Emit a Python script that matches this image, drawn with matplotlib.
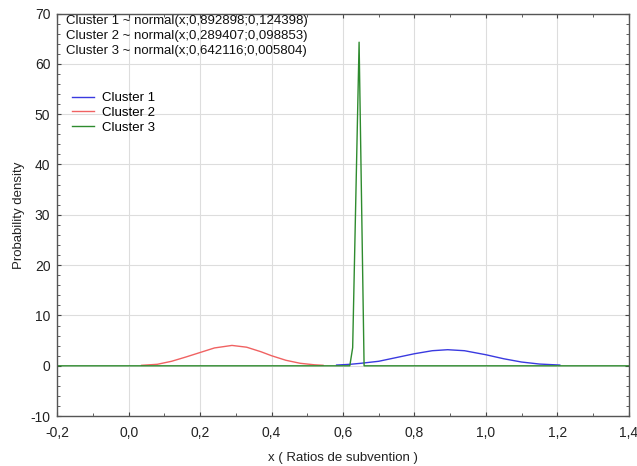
"""Normal densities fitted to the three clusters of subsidy ratios."""

import matplotlib.pyplot as plt
from matplotlib.ticker import MultipleLocator, FuncFormatter

plt.rcParams['font.family'] = ['Liberation Sans', 'DejaVu Sans']

# Curves
c1_x = [0.582, 0.62, 0.65, 0.70, 0.75, 0.80, 0.85, 0.893, 0.94, 1.00, 1.05, 1.10, 1.15, 1.207]
c1_y = [0.15, 0.3, 0.5, 0.9, 1.65, 2.4, 3.0, 3.2, 3.0, 2.2, 1.4, 0.75, 0.35, 0.15]
c2_x = [0.036, 0.08, 0.12, 0.16, 0.20, 0.24, 0.289, 0.33, 0.37, 0.40, 0.44, 0.48, 0.52, 0.544]
c2_y = [0.1, 0.3, 0.9, 1.75, 2.65, 3.55, 4.05, 3.7, 2.8, 2.0, 1.1, 0.5, 0.2, 0.1]
c3_x = [-0.2, 0.619, 0.627, 0.645, 0.659, 1.4]
c3_y = [0, 0, 3.6, 64.3, 0, 0]

labels = ['Cluster 1', 'Cluster 2', 'Cluster 3']
fits = ['Cluster 1 ~ normal(x;0,892898;0,124398)',
        'Cluster 2 ~ normal(x;0,289407;0,098853)',
        'Cluster 3 ~ normal(x;0,642116;0,005804)']

fig = plt.figure(figsize=(6.37, 4.66), dpi=100)
ax = fig.add_axes([0.09, 0.107, 0.897, 0.864])

ax.plot(c1_x, c1_y, color='#3a3ae0', lw=1.0, label=labels[0])
ax.plot(c2_x, c2_y, color='#f06262', lw=1.0, label=labels[1])
ax.plot(c3_x, c3_y, color='#2e8b2e', lw=1.0, label=labels[2])

ax.set_xlim(-0.2, 1.4)
ax.set_ylim(-10, 70)
ax.xaxis.set_major_locator(MultipleLocator(0.2))
ax.xaxis.set_minor_locator(MultipleLocator(0.1))
ax.yaxis.set_major_locator(MultipleLocator(10))
ax.yaxis.set_minor_locator(MultipleLocator(2))
ax.xaxis.set_major_formatter(FuncFormatter(lambda v, p: f'{v:.1f}'.replace('.', ',').replace('-0,0', '0,0')))
ax.yaxis.set_major_formatter(FuncFormatter(lambda v, p: f'{v:.0f}'))
ax.tick_params(which='both', direction='in', top=True, right=True, colors='#444444',
               labelcolor='#222222', labelsize=10)
ax.tick_params(which='major', length=3)
ax.tick_params(which='minor', length=2)
ax.tick_params(axis='x', which='major', pad=7)
ax.tick_params(axis='y', which='major', pad=5)
for s in ax.spines.values():
    s.set_color('#555555')
    s.set_linewidth(1.0)
ax.grid(True, which='major', color='#dddddd', lw=0.8)
ax.set_axisbelow(True)

ax.set_xlabel('x ( Ratios de subvention )', fontsize=9.5, color='#222222', labelpad=9)
ax.set_ylabel('Probability density', fontsize=9.5, color='#222222', labelpad=4)

for i, t in enumerate(fits):
    fig.text(66 / 637, 1 - (21 + 15 * i) / 466, t, fontsize=9.5, va='center', ha='left', color='#111111')

ax.legend(loc='upper left', bbox_to_anchor=(72 / 637, 1 - 92 / 466), bbox_transform=fig.transFigure,
          frameon=False, fontsize=9.5, handlelength=1.7, handletextpad=0.6, labelspacing=0.2,
          borderpad=0, borderaxespad=0)

fig.savefig('out.png', dpi=100)
